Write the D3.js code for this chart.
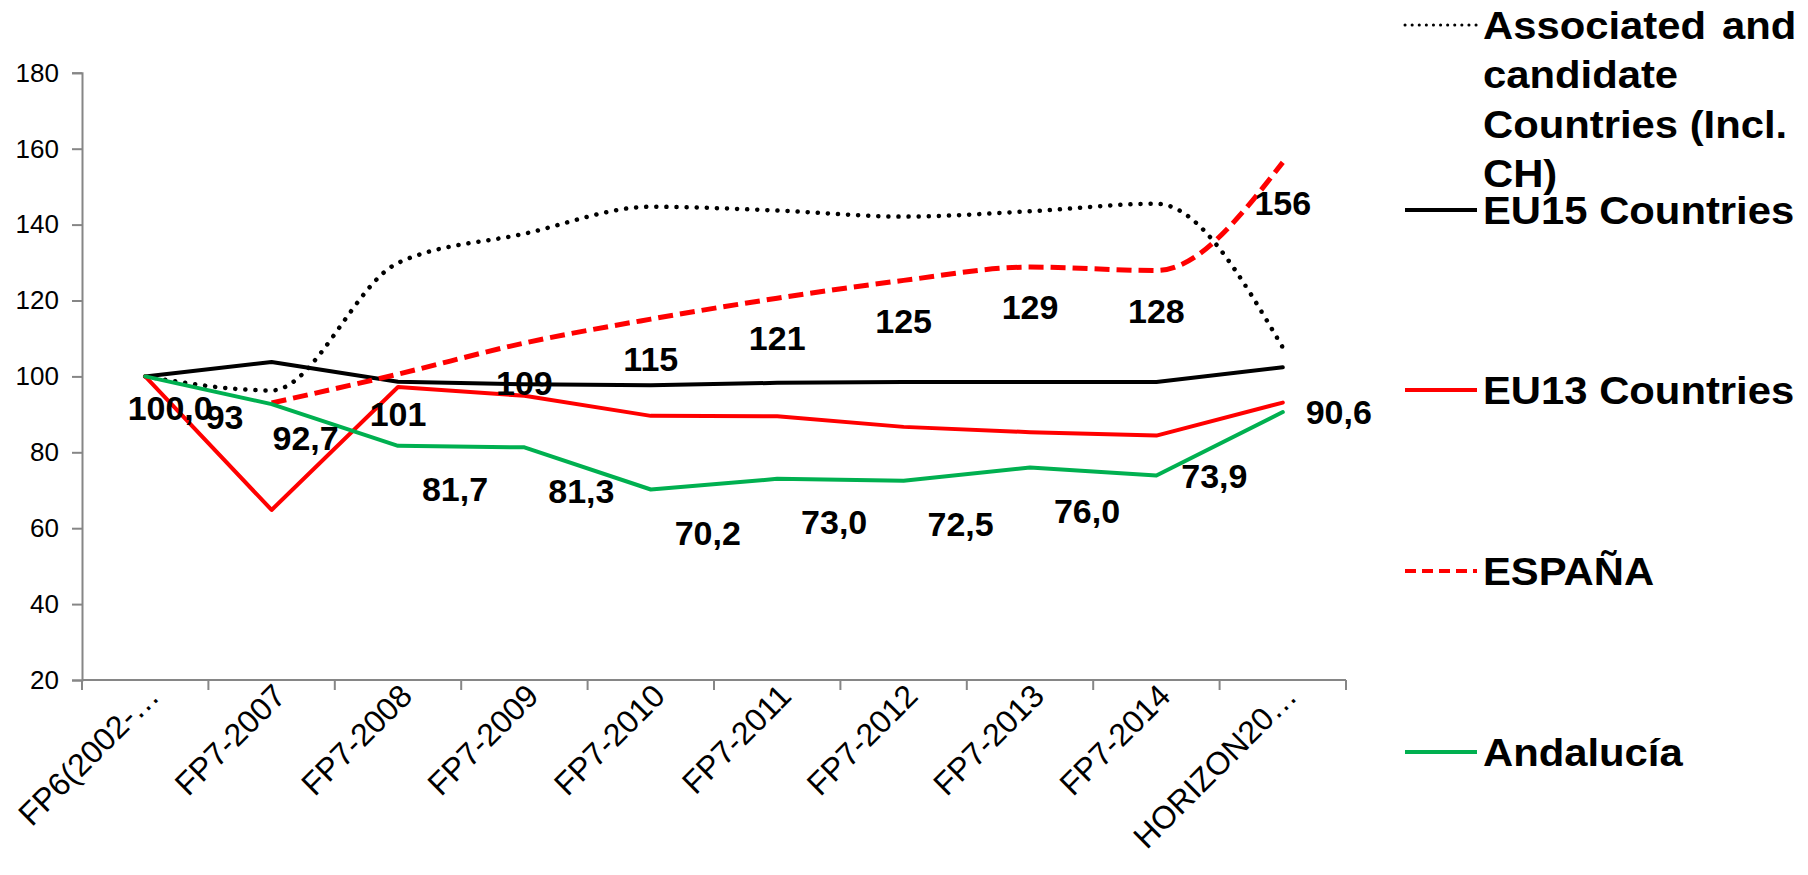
<!DOCTYPE html>
<html>
<head>
<meta charset="utf-8">
<script src="https://cdn.jsdelivr.net/npm/d3@7"></script>
<style>
  body { margin: 0; background: #fff; }
  text { font-family: Arial, "Liberation Sans", sans-serif; }
</style>
</head>
<body>
<div id="chart"></div>
<script>
// Data
const categories = ["FP6(2002-…", "FP7-2007", "FP7-2008", "FP7-2009", "FP7-2010",
    "FP7-2011", "FP7-2012", "FP7-2013", "FP7-2014", "HORIZON20…"];
const associated = [100, 96.3, 129.9, 137.6, 144.7, 143.7, 142.1, 143.5, 145.5, 107.6];
const eu15 = [100, 103.8, 98.6, 97.9, 97.7, 98.3, 98.5, 98.5, 98.5, 102.4];
const eu13 = [100, 64.8, 97.2, 94.9, 89.6, 89.5, 86.7, 85.3, 84.4, 93.1];
const espana = [null, 93.0, 100.6, 108.8, 115.1, 120.6, 125.3, 128.8, 127.9, 156.4];
const andalucia = [100.0, 92.7, 81.7, 81.3, 70.2, 73.0, 72.5, 76.0, 73.9, 90.6];
const yTicks = [20, 40, 60, 80, 100, 120, 140, 160, 180];

const seriesNames = ["Associated and candidate Countries (Incl. CH)", "EU15 Countries",
    "EU13 Countries", "ESPAÑA", "Andalucía"];

const width = 1808, height = 875;
const margin = { left: 82, right: 1346, top: 72.8, bottom: 680 };

const svg = d3.select("#chart")
    .append("svg")
    .attr("width", width)
    .attr("height", height);

// Scales
const xBand = d3.scaleBand()
    .domain(categories)
    .range([margin.left, margin.right]);
const x = d => xBand(d) + xBand.bandwidth() / 2;

const y = d3.scaleLinear()
    .domain([20, 180])
    .range([margin.bottom, margin.top]);

// Y axis
const yAxis = svg.append("g")
    .attr("transform", `translate(${margin.left},0)`)
    .call(d3.axisLeft(y).tickValues(yTicks).tickSize(10).tickPadding(13));
yAxis.select(".domain").attr("stroke", "#868686").attr("stroke-width", 2);
yAxis.selectAll(".tick line").attr("stroke", "#868686").attr("stroke-width", 2);
yAxis.selectAll("text")
    .attr("fill", "#000")
    .style("font-size", "26px")
    .style("font-family", "Arial, 'Liberation Sans', sans-serif");

// X axis line + boundary ticks
svg.append("line")
    .attr("x1", margin.left).attr("x2", margin.right)
    .attr("y1", margin.bottom).attr("y2", margin.bottom)
    .attr("stroke", "#868686").attr("stroke-width", 2);

const edges = categories.map(c => xBand(c)).concat([xBand(categories[categories.length - 1]) + xBand.bandwidth()]);
svg.selectAll(".xtick")
    .data(edges)
    .enter()
    .append("line")
    .attr("x1", d => d).attr("x2", d => d)
    .attr("y1", margin.bottom).attr("y2", margin.bottom + 10)
    .attr("stroke", "#868686").attr("stroke-width", 2);

// X labels, rotated
svg.selectAll(".xlabel")
    .data(categories)
    .enter()
    .append("text")
    .attr("transform", d => `translate(${x(d) + 16},${margin.bottom + 18}) rotate(-45)`)
    .style("text-anchor", "end")
    .style("font-size", "32px")
    .attr("fill", "#000")
    .text(d => d);

// Lines
const lineLinear = d3.line()
    .x(d => x(d.c))
    .y(d => y(d.v));
const lineSmooth = d3.line()
    .x(d => x(d.c))
    .y(d => y(d.v))
    .curve(d3.curveMonotoneX);

const toPts = arr => arr.map((v, i) => ({ c: categories[i], v: v }));

const styles = [
    { data: associated, color: "#000", width: 4.5, dash: "0.1,10", cap: "round", smooth: true },
    { data: eu15, color: "#000", width: 4, dash: null, cap: "round", smooth: false },
    { data: eu13, color: "#ff0000", width: 4, dash: null, cap: "round", smooth: false },
    { data: espana, color: "#ff0000", width: 5, dash: "15,7", cap: "butt", smooth: true },
    { data: andalucia, color: "#00b050", width: 4, dash: null, cap: "round", smooth: false }
];

styles.forEach(s => {
    svg.append("path")
        .datum(toPts(s.data).filter(d => d.v != null))
        .attr("fill", "none")
        .attr("stroke", s.color)
        .attr("stroke-width", s.width)
        .attr("stroke-dasharray", s.dash)
        .attr("stroke-linecap", s.cap)
        .attr("stroke-linejoin", "round")
        .attr("d", s.smooth ? lineSmooth : lineLinear);
});

// Data labels
const fmtComma = d => d3.format(".1f")(d).replace(".", ",");

// ESPAÑA labels below the points
const espOffset = i => i === 1 ? [-47, 14] : [0, 40];
svg.selectAll(".esp-label")
    .data(toPts(espana).map((d, i) => ({ ...d, i })).filter(d => d.v != null))
    .enter()
    .append("text")
    .attr("x", d => x(d.c) + espOffset(d.i)[0])
    .attr("y", d => y(d.v) + espOffset(d.i)[1])
    .attr("dy", "0.36em")
    .style("text-anchor", "middle")
    .style("font-size", "34px")
    .style("font-weight", "bold")
    .text(d => d3.format(".0f")(d.v));

// Andalucía labels
const andOffset = i => {
    if (i === 0) return [25, 31];
    if (i === 1) return [34, 34];
    if (i === 8) return [58, 0];
    if (i === 9) return [56, 0];
    return [57, 43];
};
svg.selectAll(".and-label")
    .data(toPts(andalucia).map((d, i) => ({ ...d, i })))
    .enter()
    .append("text")
    .attr("x", d => x(d.c) + andOffset(d.i)[0])
    .attr("y", d => y(d.v) + andOffset(d.i)[1])
    .attr("dy", "0.36em")
    .style("text-anchor", "middle")
    .style("font-size", "34px")
    .style("font-weight", "bold")
    .text(d => fmtComma(d.v));

// Legend
const legendRows = [
    { lines: ["Associated and", "candidate", "Countries (Incl.", "CH)"], cy: 25 },
    { lines: [seriesNames[1]], cy: 210 },
    { lines: [seriesNames[2]], cy: 390 },
    { lines: [seriesNames[3]], cy: 571 },
    { lines: [seriesNames[4]], cy: 752 }
];

legendRows.forEach((r, i) => {
    const s = styles[i];
    svg.append("line")
        .attr("x1", 1405).attr("x2", 1477)
        .attr("y1", r.cy).attr("y2", r.cy)
        .attr("stroke", s.color)
        .attr("stroke-width", i === 0 ? 3 : 4)
        .attr("stroke-dasharray", i === 0 ? "0.1,7" : (i === 3 ? "11,6" : null))
        .attr("stroke-linecap", i === 0 ? "round" : "butt");

    const t = svg.append("g")
        .attr("transform", `translate(1483,${r.cy + 13.7}) scale(1.1,1)`)
        .append("text")
        .style("font-size", "38px")
        .style("font-weight", "bold")
        .attr("fill", "#000");
    t.selectAll("tspan")
        .data(r.lines)
        .enter()
        .append("tspan")
        .attr("x", 0)
        .attr("dy", (d, j) => j === 0 ? 0 : 49.5)
        .style("word-spacing", (d, j) => (i === 0 && j === 0) ? "4px" : null)
        .text(d => d);
});
</script>
</body>
</html>
